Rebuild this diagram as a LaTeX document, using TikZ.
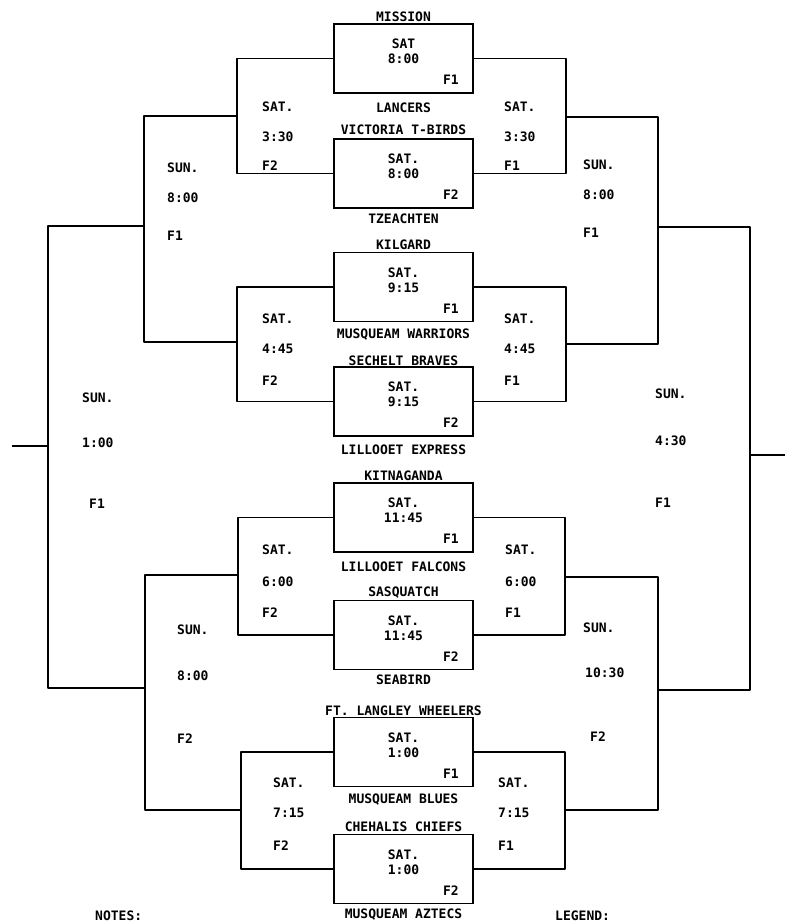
\documentclass[tikz,border=0pt]{standalone}
\usepackage{fontspec}
\newfontfamily\monob{DejaVu Sans Mono}
\usetikzlibrary{calc}
\tikzset{
  gbox/.style={draw,line width=1.8pt,minimum width=139pt,minimum height=69pt,inner sep=0pt},
  txt/.style={inner sep=0pt,font=\monob\bfseries\fontsize{13}{14}\selectfont},
  lbl/.style={txt,anchor=west},
  con/.style={draw,line width=1.8pt,line join=round}
}
\newcommand\gbx[5]{%
  \node[gbox] (#1) at (403.5,#2) {};
  \node[txt] (#1d) at ($(#1.north)+(0,21)$) {#3};
  \node[txt] (#1t) at ($(#1.north)+(0,36)$) {#4};
  \node[txt,anchor=east] (#1f) at ($(#1.north east)+(-15,57)$) {#5};
}
\begin{document}
\begin{tikzpicture}[x=1pt,y=-1pt]
\useasboundingbox (0,0) rectangle (785,924);
% game boxes
\gbx{b1}{58.5}{SAT}{8:00}{F1}
\gbx{b2}{173.5}{SAT.}{8:00}{F2}
\gbx{b3}{287}{SAT.}{9:15}{F1}
\gbx{b4}{401.5}{SAT.}{9:15}{F2}
\gbx{b5}{517.5}{SAT.}{11:45}{F1}
\gbx{b6}{635}{SAT.}{11:45}{F2}
\gbx{b7}{752}{SAT.}{1:00}{F1}
\gbx{b8}{869}{SAT.}{1:00}{F2}
% team names
\node[txt] (t1) at (403.5,17) {MISSION};
\node[txt] (t2) at (403.5,108) {LANCERS};
\node[txt] (t3) at (403.5,130) {VICTORIA T-BIRDS};
\node[txt] (t4) at (403.5,219) {TZEACHTEN};
\node[txt] (t5) at (403.5,245) {KILGARD};
\node[txt] (t6) at (403.5,335) {MUSQUEAM WARRIORS};
\node[txt] (t7) at (403.5,361) {SECHELT BRAVES};
\node[txt] (t8) at (403.5,450) {LILLOOET EXPRESS};
\node[txt] (t9) at (403.5,476) {KITNAGANDA};
\node[txt] (t10) at (403.5,567) {LILLOOET FALCONS};
\node[txt] (t11) at (403.5,593) {SASQUATCH};
\node[txt] (t12) at (403.5,680) {SEABIRD};
\node[txt] (t13) at (403.5,711) {FT. LANGLEY WHEELERS};
\node[txt] (t14) at (403.5,800) {MUSQUEAM BLUES};
\node[txt] (t15) at (403.5,827) {CHEHALIS CHIEFS};
\node[txt] (t16) at (403.5,915) {MUSQUEAM AZTECS};
% bracket coordinates
\coordinate (l1) at (237,116);
\coordinate (l2) at (237,342);
\coordinate (l3) at (238,575);
\coordinate (l4) at (241,810);
\coordinate (L1) at (144,226);
\coordinate (L2) at (145,688);
\coordinate (F) at (48,446);
\coordinate (FS) at (12,446);
\coordinate (r1) at (566,117);
\coordinate (r2) at (566,344);
\coordinate (r3) at (565,577);
\coordinate (r4) at (565,810);
\coordinate (R1) at (658,227);
\coordinate (R2) at (658,690);
\coordinate (G) at (750,455);
\coordinate (GS) at (785,455);
% left side
\path[con] (b1.west) -| (l1) |- (b2.west);
\path[con] (b3.west) -| (l2) |- (b4.west);
\path[con] (b5.west) -| (l3) |- (b6.west);
\path[con] (b7.west) -| (l4) |- (b8.west);
\path[con] (l1) -| (L1) |- (l2);
\path[con] (l3) -| (L2) |- (l4);
\path[con] (L1) -| (F) |- (L2);
\path[con] (F) -- (FS);
% right side
\path[con] (b1.east) -| (r1) |- (b2.east);
\path[con] (b3.east) -| (r2) |- (b4.east);
\path[con] (b5.east) -| (r3) |- (b6.east);
\path[con] (b7.east) -| (r4) |- (b8.east);
\path[con] (r1) -| (R1) |- (r2);
\path[con] (r3) -| (R2) |- (r4);
\path[con] (R1) -| (G) |- (R2);
\path[con] (G) -- (GS);
% SAT bracket labels left
\node[lbl] (a1) at (262,107) {SAT.};
\node[lbl] (a2) at (262,137) {3:30};
\node[lbl] (a3) at (262,166) {F2};
\node[lbl] (a4) at (262,319) {SAT.};
\node[lbl] (a5) at (262,349) {4:45};
\node[lbl] (a6) at (262,381) {F2};
\node[lbl] (a7) at (262,550) {SAT.};
\node[lbl] (a8) at (262,582) {6:00};
\node[lbl] (a9) at (262,613) {F2};
\node[lbl] (a10) at (273,783) {SAT.};
\node[lbl] (a11) at (273,813) {7:15};
\node[lbl] (a12) at (273,846) {F2};
% SAT bracket labels right
\node[lbl] (c1) at (504,107) {SAT.};
\node[lbl] (c2) at (504,137) {3:30};
\node[lbl] (c3) at (504,166) {F1};
\node[lbl] (c4) at (504,319) {SAT.};
\node[lbl] (c5) at (504,349) {4:45};
\node[lbl] (c6) at (504,381) {F1};
\node[lbl] (c7) at (505,550) {SAT.};
\node[lbl] (c8) at (505,582) {6:00};
\node[lbl] (c9) at (505,613) {F1};
\node[lbl] (c10) at (498,783) {SAT.};
\node[lbl] (c11) at (498,813) {7:15};
\node[lbl] (c12) at (498,846) {F1};
% SUN labels left
\node[lbl] (s1) at (167,168) {SUN.};
\node[lbl] (s2) at (167,198) {8:00};
\node[lbl] (s3) at (167,236) {F1};
\node[lbl] (s4) at (82,398) {SUN.};
\node[lbl] (s5) at (82,443) {1:00};
\node[lbl] (s6) at (89,504) {F1};
\node[lbl] (s7) at (177,630) {SUN.};
\node[lbl] (s8) at (177,676) {8:00};
\node[lbl] (s9) at (177,739) {F2};
% SUN labels right
\node[lbl] (u1) at (583,165) {SUN.};
\node[lbl] (u2) at (583,195) {8:00};
\node[lbl] (u3) at (583,233) {F1};
\node[lbl] (u4) at (655,394) {SUN.};
\node[lbl] (u5) at (655,441) {4:30};
\node[lbl] (u6) at (655,503) {F1};
\node[lbl] (u7) at (583,628) {SUN.};
\node[lbl] (u8) at (585,673) {10:30};
\node[lbl] (u9) at (590,737) {F2};
% footer
\node[lbl] (n1) at (95,916) {NOTES:};
\node[lbl] (n2) at (555,916) {LEGEND:};
\end{tikzpicture}
\end{document}
